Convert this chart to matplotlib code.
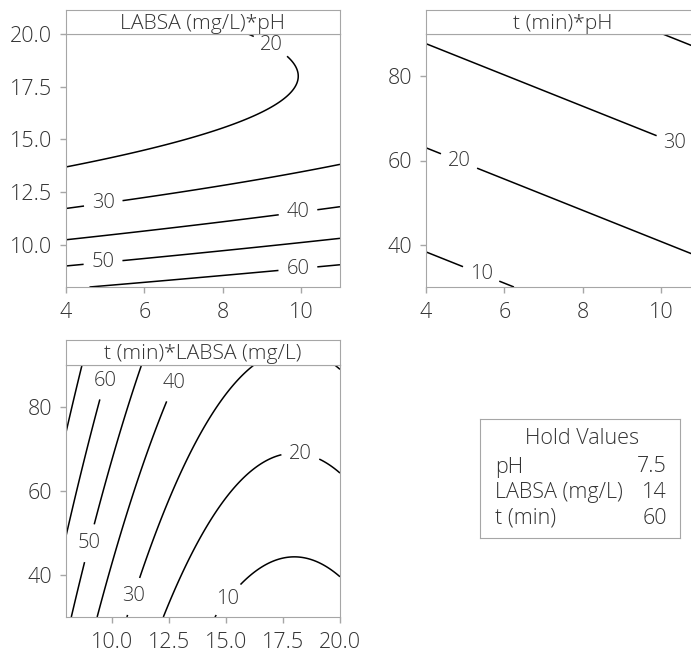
import numpy as np
import matplotlib.pyplot as plt

plt.rcParams['font.family'] = ['Open Sans', 'DejaVu Sans']
plt.rcParams['font.weight'] = 'light'

# fitted response surface, uncoded units:
# Y = const + pH + LABSA + LABSA^2 + t
coef_names = ['const', 'pH', 'LABSA', 'LABSA*LABSA', 't']
coef_values = [136.32, 1.5, -17.28, 0.48, 0.405]

hold_names = ['pH', 'LABSA (mg/L)', 't (min)']
hold_values = [7.5, 14, 60]
hold_text = ['7.5', '14', '60']

ph_range = [4, 11]
labsa_range = [8, 20]
t_range = [30, 90]
levels = [10, 20, 30, 40, 50, 60, 70]

ph_ticks = [4, 6, 8, 10]
labsa_ticks = [10.0, 12.5, 15.0, 17.5, 20.0]
t_ticks = [40, 60, 80]


def response(ph, labsa, t):
    b0, b_ph, b_l, b_ll, b_t = coef_values
    return b0 + b_ph * ph + b_l * labsa + b_ll * labsa ** 2 + b_t * t


W, H = 691, 653
fig = plt.figure(figsize=(W / 100, H / 100), dpi=100)
frame_col = '#a6a6a6'
text_col = '#333333'


def px_axes(x0, y0, x1, y1):
    return fig.add_axes([x0 / W, 1 - y1 / H, (x1 - x0) / W, (y1 - y0) / H])


def header(x0, y0, x1, y1, title):
    hx = px_axes(x0, y0, x1, y1)
    hx.set_xticks([])
    hx.set_yticks([])
    for s in hx.spines.values():
        s.set_color(frame_col)
    hx.text(0.5, 0.42, title, ha='center', va='center', fontsize=15.2,
            color=text_col, transform=hx.transAxes)


def panel(box, hdr_top, title, xr, yr, xt, yt, xfmt, yfmt, zfunc, label_pos):
    x0, y0, x1, y1 = box
    ax = px_axes(x0, y0, x1, y1)
    header(x0, hdr_top, x1, y0, title)
    xs = np.linspace(xr[0], xr[1], 300)
    ys = np.linspace(yr[0], yr[1], 300)
    X, Y = np.meshgrid(xs, ys)
    Z = zfunc(X, Y)
    cs = ax.contour(X, Y, Z, levels=levels, colors='black', linewidths=1.1)
    labs = ax.clabel(cs, fmt='%d', manual=label_pos, inline=True,
                     inline_spacing=8, fontsize=14.5)
    for t in labs:
        t.set_rotation(0)
        t.set_color(text_col)
    ax.set_xlim(xr)
    ax.set_ylim(yr)
    ax.set_xticks(xt)
    ax.set_yticks(yt)
    ax.set_xticklabels([xfmt % v for v in xt])
    ax.set_yticklabels([yfmt % v for v in yt])
    for s in ax.spines.values():
        s.set_color(frame_col)
    ax.tick_params(direction='out', length=4.5, width=1, color=frame_col,
                   labelcolor=text_col, labelsize=15.5)
    ax.tick_params(axis='x', pad=6)
    ax.tick_params(axis='y', pad=5.5)
    return ax


# LABSA vs pH, t held
panel((66, 34, 340, 287), 10, 'LABSA (mg/L)*pH', ph_range, labsa_range,
      ph_ticks, labsa_ticks, '%d', '%.1f',
      lambda p, l: response(p, l, hold_values[2]),
      [(9.2, 19.34), (4.94, 12.13), (9.92, 11.65), (4.94, 9.28), (9.92, 8.95)])

# t vs pH, LABSA held
panel((426, 34, 700, 287), 10, 't (min)*pH', ph_range, t_range,
      ph_ticks, t_ticks, '%d', '%d',
      lambda p, t: response(p, hold_values[1], t),
      [(10.38, 64.8), (4.87, 60.5), (5.46, 34.3)])

# t vs LABSA, pH held
panel((66, 365, 340, 617), 340, 't (min)*LABSA (mg/L)', labsa_range, t_range,
      labsa_ticks, t_ticks, '%.1f', '%d',
      lambda l, t: response(hold_values[0], l, t),
      [(9.63, 86.4), (12.7, 85.7), (9.0, 47.6), (10.9, 35.0),
       (18.3, 69.8), (14.9, 35.0)])

# hold values box
hb = px_axes(480, 419, 680, 538)
hb.set_xticks([])
hb.set_yticks([])
for s in hb.spines.values():
    s.set_color(frame_col)
fig.text(582 / W, 1 - 439 / H, 'Hold Values', ha='center', va='center',
         fontsize=15.5, color=text_col)
for i, (name, val) in enumerate(zip(hold_names, hold_text)):
    yy = 1 - (467 + i * 25.5) / H
    fig.text(495 / W, yy, name, ha='left', va='center', fontsize=15.5,
             color=text_col)
    fig.text(667 / W, yy, val, ha='right', va='center', fontsize=15.5,
             color=text_col)

fig.savefig('out.png', dpi=100)
